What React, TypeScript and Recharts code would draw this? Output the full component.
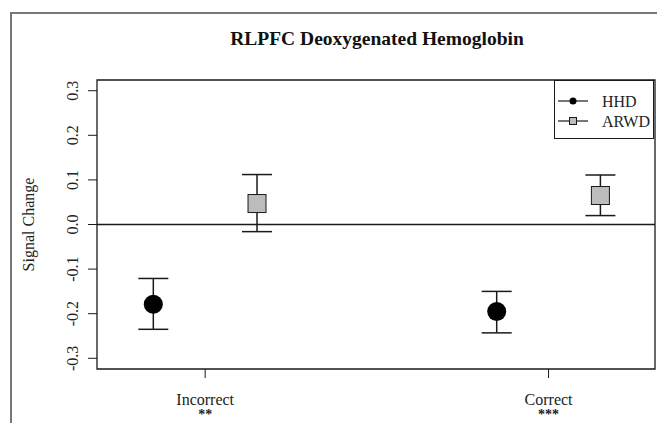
import React from "react";
import {
  ErrorBar,
  Legend,
  ReferenceArea,
  ReferenceLine,
  Scatter,
  ScatterChart,
  XAxis,
  YAxis,
} from "recharts";

// valores
const CATEGORIAS = ["Incorrect", "Correct"];
const ESTRELAS = ["**", "***"];
const Y_TICKS = [-0.3, -0.2, -0.1, 0, 0.1, 0.2, 0.3];

const HHD_MEDIA = [-0.179, -0.195];
const HHD_MIN = [-0.235, -0.243];
const HHD_MAX = [-0.121, -0.15];

const ARWD_MEDIA = [0.047, 0.065];
const ARWD_MIN = [-0.016, 0.02];
const ARWD_MAX = [0.112, 0.111];

const DESLOCAMENTO = 0.151;
const DOMINIO_X: [number, number] = [0.685, 2.31];
const DOMINIO_Y: [number, number] = [-0.324, 0.324];

const FONTE = "'Liberation Serif', 'Times New Roman', serif";
const TRACO = "#1a1a1a";

function montarSerie(media: number[], min: number[], max: number[], lado: number) {
  return media.map((m, i) => ({
    x: i + 1 + lado * DESLOCAMENTO,
    y: m,
    erro: [m - min[i], max[i] - m],
    categoria: CATEGORIAS[i],
  }));
}

const dadosHHD = montarSerie(HHD_MEDIA, HHD_MIN, HHD_MAX, -1);
const dadosARWD = montarSerie(ARWD_MEDIA, ARWD_MIN, ARWD_MAX, 1);

function Circulo({ cx, cy }: any) {
  return <circle cx={cx} cy={cy} r={9.5} fill="#000" />;
}

function Quadrado({ cx, cy }: any) {
  return (
    <rect
      x={cx - 9}
      y={cy - 9}
      width={18}
      height={18}
      fill="#bcbcbc"
      stroke={TRACO}
      strokeWidth={1}
    />
  );
}

function TickY({ x, y, payload }: any) {
  const bx = x - 8;
  return (
    <text
      x={bx}
      y={y}
      transform={`rotate(-90, ${bx}, ${y})`}
      textAnchor="middle"
      style={{ fontFamily: FONTE }}
      fontSize={16}
      fill="#222"
    >
      {payload.value.toFixed(1)}
    </text>
  );
}

function TickX({ x, y, payload }: any) {
  const i = Math.round(payload.value) - 1;
  return (
    <g>
      <text
        x={x}
        y={y + 25}
        textAnchor="middle"
        style={{ fontFamily: FONTE }}
        fontSize={16}
        fill="#222"
      >
        {CATEGORIAS[i]}
      </text>
      <text
        x={x}
        y={y + 39}
        textAnchor="middle"
        style={{ fontFamily: FONTE }}
        fontSize={14}
        fontWeight="bold"
        fill="#222"
      >
        {ESTRELAS[i]}
      </text>
    </g>
  );
}

function RotuloY({ viewBox }: any) {
  const cx = 28;
  const cy = viewBox.y + viewBox.height / 2;
  return (
    <text
      x={cx}
      y={cy}
      transform={`rotate(-90, ${cx}, ${cy})`}
      textAnchor="middle"
      dominantBaseline="central"
      style={{ fontFamily: FONTE }}
      fontSize={16}
      fill="#222"
    >
      Signal Change
    </text>
  );
}

function Legenda() {
  return (
    <div
      style={{
        width: 100,
        height: 59,
        border: `1px solid ${TRACO}`,
        background: "#fff",
        boxSizing: "border-box",
        fontFamily: FONTE,
        fontSize: 16,
        color: "#222",
      }}
    >
      <svg width={100} height={57} style={{ display: "block" }}>
        <line x1={3} x2={33} y1={20} y2={20} stroke={TRACO} strokeWidth={1.2} />
        <circle cx={18} cy={20} r={3.5} fill="#000" />
        <text x={47} y={26} style={{ fontFamily: FONTE }} fontSize={16} fill="#222">
          HHD
        </text>
        <line x1={3} x2={33} y1={40} y2={40} stroke={TRACO} strokeWidth={1.2} />
        <rect x={14.5} y={36.5} width={7} height={7} fill="#bcbcbc" stroke={TRACO} />
        <text x={47} y={46} style={{ fontFamily: FONTE }} fontSize={16} fill="#222">
          ARWD
        </text>
      </svg>
    </div>
  );
}

export default function App() {
  return (
    <div
      style={{
        position: "absolute",
        left: 0,
        top: 0,
        width: 657,
        height: 423,
        background: "#fff",
        overflow: "hidden",
      }}
    >
      <div
        style={{
          position: "absolute",
          left: 10,
          top: 12,
          width: 700,
          height: 500,
          borderLeft: "2px solid #777",
          borderTop: "2px solid #777",
        }}
      />
      <div
        style={{
          position: "absolute",
          left: 0,
          width: 754,
          top: 28,
          textAlign: "center",
          fontFamily: FONTE,
          fontWeight: "bold",
          fontSize: 19.5,
          color: "#111",
        }}
      >
        RLPFC Deoxygenated Hemoglobin
      </div>
      <div style={{ position: "absolute", left: 0, top: 0 }}>
        <ScatterChart
          width={657}
          height={423}
          margin={{ top: 80, right: 2, bottom: 0, left: 0 }}
        >
          <XAxis
            type="number"
            dataKey="x"
            domain={DOMINIO_X}
            ticks={[1, 2]}
            allowDataOverflow
            axisLine={false}
            tickLine={{ stroke: TRACO }}
            tickSize={9}
            height={54}
            tick={<TickX />}
          />
          <YAxis
            type="number"
            dataKey="y"
            domain={DOMINIO_Y}
            ticks={Y_TICKS}
            allowDataOverflow
            axisLine={false}
            tickLine={{ stroke: TRACO }}
            tickSize={9}
            width={97}
            tick={<TickY />}
            label={<RotuloY />}
          />
          <ReferenceArea
            x1={DOMINIO_X[0]}
            x2={DOMINIO_X[1]}
            y1={DOMINIO_Y[0]}
            y2={DOMINIO_Y[1]}
            fill="none"
            stroke={TRACO}
            strokeWidth={1.3}
          />
          <ReferenceLine y={0} stroke={TRACO} strokeWidth={1.3} />
          <Legend
            layout="vertical"
            align="center"
            verticalAlign="middle"
            content={<Legenda />}
            wrapperStyle={{ position: "absolute", left: 554, top: 80, width: 100 }}
          />
          <Scatter
            name="HHD"
            data={dadosHHD}
            shape={<Circulo />}
            isAnimationActive={false}
          >
            <ErrorBar
              dataKey="erro"
              direction="y"
              width={15}
              stroke={TRACO}
              strokeWidth={1.5}
            />
          </Scatter>
          <Scatter
            name="ARWD"
            data={dadosARWD}
            shape={<Quadrado />}
            isAnimationActive={false}
          >
            <ErrorBar
              dataKey="erro"
              direction="y"
              width={15}
              stroke={TRACO}
              strokeWidth={1.5}
            />
          </Scatter>
        </ScatterChart>
      </div>
    </div>
  );
}
